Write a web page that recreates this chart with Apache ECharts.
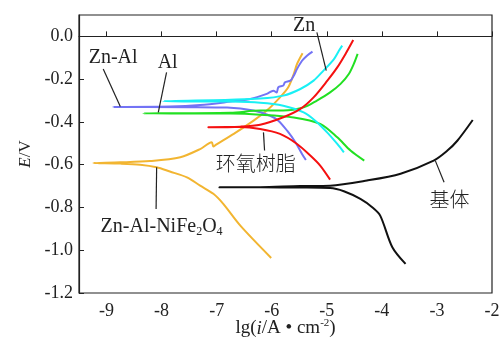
<!DOCTYPE html>
<html>
<head>
<meta charset="utf-8">
<script src="https://cdn.jsdelivr.net/npm/echarts@6/dist/echarts.min.js"></script>
<style>
  html, body { margin: 0; padding: 0; background: #fff; }
  #chart { width: 504px; height: 342px; }
</style>
</head>
<body>
<div id="chart"></div>
<script>
// tick labels
const xTicks = [-9, -8, -7, -6, -5, -4, -3, -2];
const yTicks = [0, -0.2, -0.4, -0.6, -0.8, -1.0, -1.2];

// polarization curves [lg(i), E], cathodic end -> Ecorr -> anodic end
const substrate = [
  [-3.57, -1.064], [-3.81, -0.986], [-4.03, -0.838], [-4.17, -0.800], [-4.39, -0.760],
  [-4.69, -0.724], [-4.94, -0.709], [-5.5, -0.707], [-6.2, -0.706], [-6.95, -0.706],
  [-6.21, -0.705], [-5.48, -0.700], [-4.94, -0.698], [-4.27, -0.674], [-3.66, -0.642],
  [-3.06, -0.581], [-2.81, -0.534], [-2.63, -0.488], [-2.35, -0.391]
];
const znAlNiFe2O4 = [
  [-6.01, -1.036], [-6.57, -0.885], [-6.88, -0.783], [-7.06, -0.736], [-7.30, -0.698],
  [-7.54, -0.659], [-7.85, -0.632], [-8.09, -0.612], [-8.39, -0.600], [-8.75, -0.595],
  [-9.24, -0.592],
  [-8.75, -0.589], [-8.21, -0.583], [-7.66, -0.565], [-7.30, -0.527], [-7.09, -0.495],
  [-7.06, -0.515], [-7.01, -0.506], [-6.69, -0.456], [-6.33, -0.394], [-6.09, -0.347],
  [-5.85, -0.285], [-5.70, -0.238], [-5.60, -0.176], [-5.54, -0.129], [-5.44, -0.079]
];
const znAl = [
  [-5.38, -0.578], [-5.45, -0.550], [-5.57, -0.495], [-5.72, -0.441], [-5.88, -0.394],
  [-6.03, -0.371], [-6.33, -0.347], [-6.81, -0.333], [-7.48, -0.331], [-8.88, -0.330],
  [-7.85, -0.328], [-7.30, -0.321], [-6.75, -0.305], [-6.39, -0.293], [-6.09, -0.269],
  [-5.97, -0.254], [-5.91, -0.262], [-5.88, -0.238], [-5.79, -0.230], [-5.76, -0.215],
  [-5.66, -0.207], [-5.60, -0.184], [-5.54, -0.152], [-5.45, -0.114], [-5.36, -0.090],
  [-5.26, -0.071]
];
const al = [
  [-4.32, -0.581], [-4.57, -0.534], [-4.81, -0.472], [-5.12, -0.409], [-5.60, -0.379],
  [-6.21, -0.366], [-6.75, -0.361], [-8.33, -0.360],
  [-6.75, -0.357], [-6.21, -0.347], [-5.79, -0.347], [-5.42, -0.332], [-5.18, -0.300],
  [-4.94, -0.262], [-4.75, -0.222], [-4.60, -0.176], [-4.51, -0.129], [-4.44, -0.082]
];
const zn = [
  [-4.69, -0.542], [-4.81, -0.503], [-4.99, -0.450], [-5.21, -0.394], [-5.42, -0.355],
  [-5.79, -0.324], [-6.21, -0.310], [-6.75, -0.305], [-7.97, -0.303],
  [-6.75, -0.296], [-6.21, -0.291], [-5.79, -0.277], [-5.48, -0.246], [-5.24, -0.207],
  [-5.06, -0.160], [-4.87, -0.106], [-4.78, -0.067], [-4.72, -0.043]
];
const epoxy = [
  [-4.94, -0.670], [-5.12, -0.604], [-5.30, -0.557], [-5.54, -0.503], [-5.85, -0.456],
  [-6.21, -0.433], [-6.57, -0.424], [-7.15, -0.425],
  [-6.57, -0.422], [-6.21, -0.413], [-5.79, -0.378], [-5.48, -0.339], [-5.24, -0.285],
  [-4.99, -0.207], [-4.81, -0.145], [-4.66, -0.082], [-4.52, -0.017]
];

// labels: text, label centre, leader start, leader end (data coords)
const notes = [
  ['Zn', [-5.41, 0.05], [-5.18, 0.019], [-5.01, -0.160]],
  ['Zn-Al', [-8.88, -0.098], [-9.06, -0.152], [-8.75, -0.328]],
  ['Al', [-7.89, -0.121], [-7.91, -0.168], [-8.06, -0.355]],
  ['环氧树脂', [-6.29, -0.596], [-6.15, -0.449], [-6.13, -0.534]],
  ['基体', [-2.77, -0.760], [-3.03, -0.581], [-2.87, -0.682]],
  ['{n|Zn-Al-NiFe}{s|2}{n|O}{s|4}', [-8.0, -0.889], [-8.09, -0.612], [-8.10, -0.807]]
];

const serif = '"Liberation Serif", "Times New Roman", serif';
const chart = echarts.init(document.getElementById('chart'));

function curve(name, data, color) {
  return {
    name, type: 'line', data, showSymbol: false, smooth: 0.3,
    lineStyle: { color, width: 2 }, animation: false
  };
}

chart.setOption({
  animation: false,
  grid: {
    left: 79, top: 15, right: 12, bottom: 49, outerBoundsMode: 'none',
    show: true, borderColor: '#222', borderWidth: 1.2
  },
  xAxis: {
    type: 'value', min: -9.5, max: -2,
    name: '{n|lg(}{i|i}{n|/A • cm}{p|-2}{n|)}',
    nameLocation: 'middle', nameGap: 25, nameMoveOverlap: false,
    nameTextStyle: {
      rich: {
        n: { fontFamily: serif, fontSize: 19, color: '#222' },
        i: { fontFamily: serif, fontSize: 19, fontStyle: 'italic', color: '#222' },
        p: { fontFamily: serif, fontSize: 11, color: '#222', verticalAlign: 'bottom', padding: [0, 0, 10, 0] }
      }
    },
    axisLine: { lineStyle: { color: '#222', width: 1.2 } },
    axisTick: { inside: true, length: 5, customValues: xTicks, lineStyle: { color: '#222' } },
    axisLabel: { customValues: xTicks, fontFamily: serif, fontSize: 18, color: '#222', margin: 9 },
    splitLine: { show: false }
  },
  yAxis: {
    type: 'value', min: -1.2, max: 0.1,
    name: '{i|E}{n|/V}',
    nameLocation: 'middle', nameGap: 45, nameRotate: 90, nameMoveOverlap: false,
    nameTextStyle: {
      rich: {
        n: { fontFamily: serif, fontSize: 17, color: '#222' },
        i: { fontFamily: serif, fontSize: 17, fontStyle: 'italic', color: '#222' }
      }
    },
    axisLine: { lineStyle: { color: '#222', width: 1.2 } },
    axisTick: { inside: true, length: 5, customValues: yTicks, lineStyle: { color: '#222' } },
    axisLabel: {
      customValues: yTicks, fontFamily: serif, fontSize: 18, color: '#222', margin: 6,
      formatter: v => v.toFixed(1)
    },
    splitLine: { show: false }
  },
  series: [
    curve('Zn-Al-NiFe2O4', znAlNiFe2O4, '#f2b531'),
    curve('Zn-Al', znAl, '#7373f5'),
    curve('Al', al, '#22e022'),
    curve('Zn', zn, '#19f0f5'),
    curve('环氧树脂', epoxy, '#f51010'),
    curve('基体', substrate, '#111111')
  ]
});

const px = p => chart.convertToPixel({ gridIndex: 0 }, p);
const graphics = [];
notes.forEach(([text, at, from, to]) => {
  const a = px(from), b = px(to), c = px(at);
  graphics.push({
    type: 'line', shape: { x1: a[0], y1: a[1], x2: b[0], y2: b[1] },
    style: { stroke: '#222', lineWidth: 1.2 }, z: 10
  });
  const cjk = /[\u4e00-\u9fff]/.test(text);
  graphics.push({
    type: 'text', x: c[0], y: c[1], z: 10,
    style: {
      text, align: 'center', verticalAlign: 'middle', fill: '#222',
      fontFamily: cjk ? '"Noto Sans CJK SC", sans-serif' : serif,
      fontSize: 20, fontWeight: cjk ? 300 : 'normal',
      rich: {
        n: { fontFamily: serif, fontSize: 20, fill: '#222' },
        s: { fontFamily: serif, fontSize: 12, fill: '#222', verticalAlign: 'top', padding: [10, 0, 0, 0] }
      }
    }
  });
});
chart.setOption({ graphic: graphics });
</script>
</body>
</html>
